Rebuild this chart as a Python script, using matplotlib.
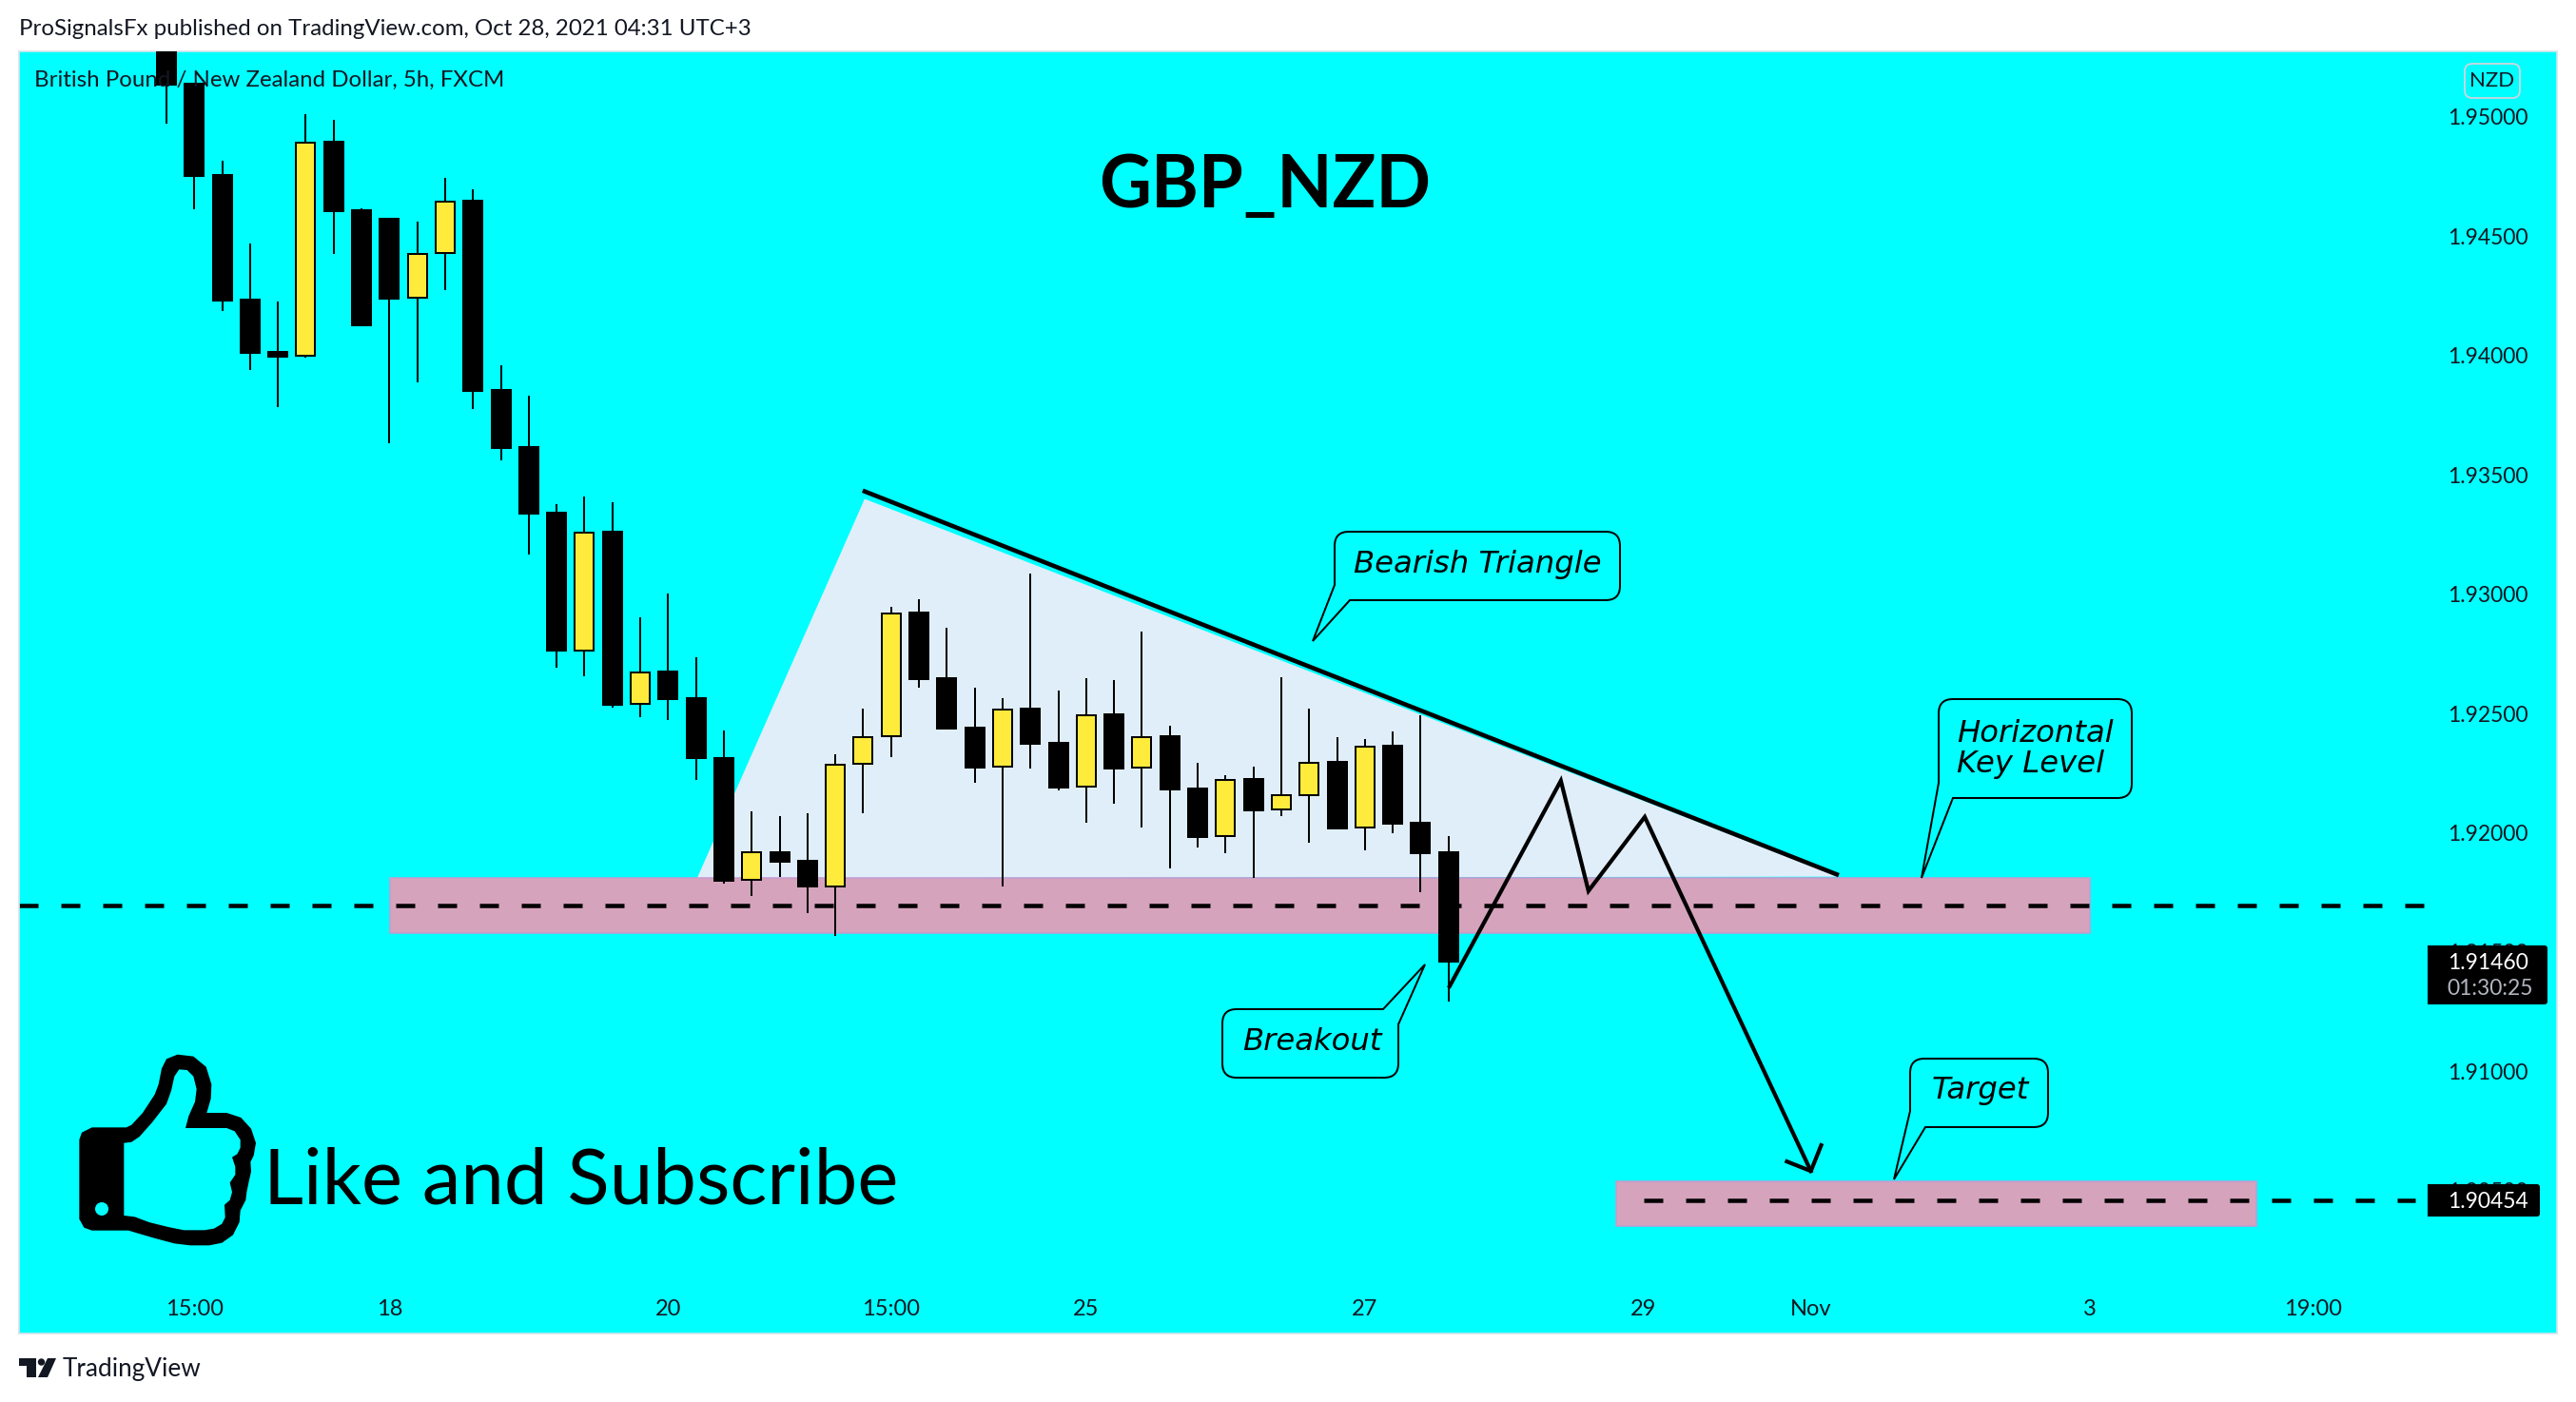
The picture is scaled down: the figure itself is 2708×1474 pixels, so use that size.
# GBP_NZD 5h candles with the triangle setup drawn on top

import matplotlib
matplotlib.use('Agg')
import matplotlib.pyplot as plt
from matplotlib.patches import FancyBboxPatch, PathPatch, Polygon, Circle, Rectangle
from matplotlib.path import Path
import numpy as np

# candles, price values
bar_open = [1.95331, 1.95140, 1.94757, 1.94234, 1.94015, 1.93999, 1.94896, 1.94609, 1.94573, 1.94242,
            1.94430, 1.94649, 1.93856, 1.93617, 1.93341, 1.92763, 1.93262, 1.92540, 1.92676, 1.92564,
            1.92313, 1.91802, 1.91918, 1.91882, 1.91775, 1.92289, 1.92404, 1.92923, 1.92648, 1.92440,
            1.92277, 1.92520, 1.92377, 1.92193, 1.92496, 1.92273, 1.92404, 1.92185, 1.91986, 1.92225,
            1.92097, 1.92157, 1.92297, 1.92022, 1.92365, 1.92042, 1.91918]
bar_close = [1.95136, 1.94753, 1.94231, 1.94011, 1.93995, 1.94892, 1.94605, 1.94127, 1.94238, 1.94426,
             1.94645, 1.93852, 1.93613, 1.93337, 1.92763, 1.93258, 1.92536, 1.92672, 1.92560, 1.92313,
             1.91798, 1.91918, 1.91878, 1.91775, 1.92285, 1.92400, 1.92919, 1.92644, 1.92436, 1.92273,
             1.92516, 1.92373, 1.92191, 1.92492, 1.92271, 1.92400, 1.92181, 1.91982, 1.92221, 1.92094,
             1.92157, 1.92293, 1.92018, 1.92361, 1.92038, 1.91914, 1.91460]
bar_high = [1.95371, 1.95140, 1.94817, 1.94470, 1.94227, 1.95012, 1.94988, 1.94617, 1.94573, 1.94561,
            1.94745, 1.94697, 1.93959, 1.93832, 1.93377, 1.93409, 1.93385, 1.92903, 1.93003, 1.92735,
            1.92428, 1.92090, 1.92070, 1.92082, 1.92329, 1.92520, 1.92947, 1.92979, 1.92859, 1.92608,
            1.92564, 1.93086, 1.92596, 1.92648, 1.92640, 1.92843, 1.92448, 1.92293, 1.92241, 1.92277,
            1.92652, 1.92520, 1.92400, 1.92393, 1.92424, 1.92492, 1.91986]
bar_low = [1.94972, 1.94613, 1.94187, 1.93939, 1.93784, 1.93991, 1.94426, 1.94123, 1.93632, 1.93888,
           1.94274, 1.93776, 1.93561, 1.93166, 1.92692, 1.92656, 1.92524, 1.92484, 1.92472, 1.92221,
           1.91786, 1.91735, 1.91814, 1.91663, 1.91569, 1.92082, 1.92317, 1.92608, 1.92432, 1.92209,
           1.91775, 1.92271, 1.92177, 1.92042, 1.92121, 1.92022, 1.91852, 1.91938, 1.91914, 1.91812,
           1.92068, 1.91958, 1.92018, 1.91928, 1.91998, 1.91751, 1.91292]

price_ticks = [1.950, 1.945, 1.940, 1.935, 1.930, 1.925, 1.920, 1.915, 1.910, 1.905]
time_ticks = [1, 8, 18, 26, 33, 43, 53, 59, 69, 77]
time_labels = ['15:00', '18', '20', '15:00', '25', '27', '29', 'Nov', '3', '19:00']

# drawings, as (bar number, price)
triangle = [(19.04, 1.91810), (25.05, 1.93399), (60.0, 1.91816)]
trend_line = [(24.98, 1.93434), (60.0, 1.91822)]
zigzag = [(46.04, 1.91357), (50.03, 1.92218), (51.02, 1.91756), (53.04, 1.92066), (59.0, 1.90582)]
arrow_head = [(58.14, 1.90622), (59.0, 1.90582), (59.37, 1.90690)]
key_zone = (8.02, 69.0, 1.91578, 1.91810)
target_zone = (52.0, 75.0, 1.90350, 1.90538)
key_level = 1.91695
key_span = (-5.29, 81.0)
target_level = 1.90458
target_span = (53.0, 80.7)

plt.rcParams['font.family'] = ['Lato', 'DejaVu Sans']

W, H = 2708, 1474
PANE_L, PANE_T, PANE_R, PANE_B = 20, 54, 2688, 1402
CYAN = '#00FFFF'
INK = '#131722'

fig = plt.figure(figsize=(W / 100, H / 100), dpi=100, facecolor='white')
ax = fig.add_axes([PANE_L / W, (H - PANE_B) / H, (PANE_R - PANE_L) / W, (PANE_B - PANE_T) / H])
ax.set_facecolor(CYAN)
ax.set_xlim(-5.29, 85.77)
ax.set_ylim(1.89901, 1.95275)
for s in ax.spines.values():
    s.set_color('#d6e4ea')
    s.set_linewidth(1.2)

px = 0.72  # one pixel in points

ax.yaxis.tick_right()
ax.set_yticks(price_ticks)
ax.set_yticklabels(['%.5f' % p for p in price_ticks])
ax.set_xticks(time_ticks)
ax.set_xticklabels(time_labels)
ax.tick_params(axis='y', length=0, pad=-115 * px, labelsize=16.5, labelcolor=INK)
ax.tick_params(axis='x', length=0, pad=-36 * px, labelsize=17, labelcolor=INK)

# drawings under the candles
ax.add_patch(Polygon(triangle, closed=True, fc='#E0EEFA', ec='none', zorder=1))
for zone in (key_zone, target_zone):
    ax.add_patch(Rectangle((zone[0], zone[2]), zone[1] - zone[0], zone[3] - zone[2],
                           fc='#D5A3BC', ec='#C79AD0', lw=1.5 * px, zorder=1.2))
dash = (0, (20 / 4.5, 24 / 4.5))
ax.plot(key_span, [key_level, key_level], color='k', lw=4.5 * px, ls=dash, zorder=1.5,
        dash_capstyle='butt')
ax.plot(target_span, [target_level, target_level], color='k', lw=4.5 * px, ls=dash, zorder=1.5,
        dash_capstyle='butt')

# candles
bars = np.arange(len(bar_open))
for i in bars:
    up = bar_close[i] > bar_open[i]
    ax.vlines(i, bar_low[i], bar_high[i], color='k', lw=2 * px, zorder=3)
    ax.bar(i, abs(bar_close[i] - bar_open[i]), bottom=min(bar_open[i], bar_close[i]), width=20 / 29.3,
           color='#FFEB3B' if up else 'k', edgecolor='k', lw=2 * px, zorder=3.2)

# trend line and projected path
ax.plot(*zip(*trend_line), color='k', lw=4.6 * px, zorder=4, solid_capstyle='butt')
ax.plot(*zip(*zigzag), color='k', lw=4.2 * px, zorder=4, solid_joinstyle='miter')
ax.plot(*zip(*arrow_head), color='k', lw=4.2 * px, zorder=4, solid_joinstyle='round')

# everything that sits in pixel space: labels, callouts, logos
ov = fig.add_axes([0, 0, 1, 1], facecolor='none')
ov.set_xlim(0, W)
ov.set_ylim(H, 0)
ov.axis('off')


def callout(box, tip, a_h, a_v, corner):
    # rounded box whose tail replaces one corner (bl or tr)
    l, t, r, b = box
    R = 15
    v = [(l + R, t)]
    c = [Path.MOVETO]
    if corner == 'tr':
        v += [(a_h, t), tip, (r, a_v)]
        c += [Path.LINETO] * 3
    else:
        v += [(r - R, t), (r, t), (r, t + R)]
        c += [Path.LINETO, Path.CURVE3, Path.CURVE3]
    v += [(r, b - R), (r, b), (r - R, b)]
    c += [Path.LINETO, Path.CURVE3, Path.CURVE3]
    if corner == 'bl':
        v += [(a_h, b), tip, (l, a_v)]
        c += [Path.LINETO] * 3
    else:
        v += [(l + R, b), (l, b), (l, b - R)]
        c += [Path.LINETO, Path.CURVE3, Path.CURVE3]
    v += [(l, t + R), (l, t), (l + R, t), (l + R, t)]
    c += [Path.LINETO, Path.CURVE3, Path.CURVE3, Path.CLOSEPOLY]
    ov.add_patch(PathPatch(Path(v, c), fc=CYAN, ec='k', lw=2 * px, joinstyle='miter'))


callout((1403, 559, 1703, 631), (1380, 674), 1419, 615, 'bl')
callout((2038, 735, 2241, 839), (2020, 923), 2053, 823, 'bl')
callout((2008, 1113, 2153, 1185), (1991, 1240), 2024, 1168, 'bl')
callout((1285, 1061, 1470, 1133), (1498, 1014), 1454, 1077, 'tr')

note = dict(family='DejaVu Sans', style='oblique', fontsize=23.2, color='k')
ov.text(1553, 593, 'Bearish Triangle', ha='center', va='center', **note)
ov.text(2057, 780, 'Horizontal', ha='left', va='baseline', **note)
ov.text(2057, 812, 'Key Level', ha='left', va='baseline', **note)
ov.text(2082, 1147, 'Target', ha='center', va='center', **note)
ov.text(1379, 1095, 'Breakout', ha='center', va='center', **note)

ov.text(1155, 218, 'GBP_NZD', ha='left', va='baseline', fontsize=54.5, fontweight='bold', color='k')
ov.text(277, 1266, 'Like and Subscribe', ha='left', va='baseline', fontsize=58.8, color='k')

ov.text(20, 30, 'ProSignalsFx published on TradingView.com, Oct 28, 2021 04:31 UTC+3', ha='left', va='center',
        fontsize=17.25, color=INK)
ov.text(36, 84, 'British Pound / New Zealand Dollar, 5h, FXCM', ha='left', va='center', fontsize=17.3, color=INK)

# currency badge and price boxes
ov.add_patch(FancyBboxPatch((2597, 73), 46, 24, boxstyle='round,pad=6,rounding_size=8', fc=CYAN, ec='#d1d4dc',
                            lw=1.8 * px))
ov.text(2620, 85, 'NZD', ha='center', va='center', fontsize=16, color=INK)

for x0, y0, x1, y1 in [(2552, 994, 2678, 1056), (2552, 1245, 2670, 1279)]:
    # square on the left, small radius on the right
    ov.add_patch(FancyBboxPatch((x0 + 3, y0 + 3), x1 - x0 - 6, y1 - y0 - 6, boxstyle='round,pad=3,rounding_size=3',
                                fc='k', ec='none'))
    ov.add_patch(Rectangle((x0, y0), 12, y1 - y0, fc='k', ec='none'))
ov.text(2573, 1012, '1.91460', ha='left', va='center', fontsize=16.5, color='white')
ov.text(2572, 1039, '01:30:25', ha='left', va='center', fontsize=16.5, color='#b2b5be')
ov.text(2573, 1263, '1.90454', ha='left', va='center', fontsize=16.5, color='white')

# thumb icon, traced
hand_outer = [(70, 325), (78, 302), (110, 286), (218, 286), (235, 278), (270, 240), (308, 182), (320, 150), (330, 100),
              (345, 70), (380, 56), (430, 62), (470, 95), (487, 150), (485, 195), (472, 240), (535, 240), (580, 255),
              (612, 290), (627, 335), (620, 375), (610, 395), (612, 425), (603, 465), (598, 490), (595, 515),
              (578, 548), (575, 585), (555, 625), (520, 650), (480, 658), (420, 658), (370, 652), (310, 636),
              (255, 620), (225, 611), (110, 611), (85, 602), (70, 575)]
hand_inner = [(211, 335), (235, 332), (260, 315), (300, 270), (345, 212), (360, 170), (370, 125), (385, 103), (410, 105),
              (430, 125), (440, 165), (435, 205), (415, 250), (405, 288), (535, 288), (560, 298), (578, 325),
              (578, 350), (568, 370), (552, 380), (562, 410), (562, 435), (545, 460), (552, 490), (545, 515),
              (528, 530), (530, 570), (520, 590), (495, 605), (465, 610), (400, 610), (350, 600), (290, 585),
              (245, 568), (211, 564)]


def icon_xy(points):
    return [(60 + a / 3, 1090 + b / 3) for a, b in points]


ov.add_patch(Polygon(icon_xy(hand_outer), closed=True, fc='k', ec='none'))
ov.add_patch(Polygon(icon_xy(hand_inner), closed=True, fc=CYAN, ec='none'))
ov.add_patch(Circle((107, 1271), 7, fc=CYAN, ec='none'))

# TradingView logo
ov.add_patch(Polygon([(20, 1428), (38, 1428), (38, 1448), (28, 1448), (28, 1436), (20, 1436)], closed=True, fc=INK,
                     ec='none'))
ov.add_patch(Circle((43.5, 1432), 3.7, fc=INK, ec='none'))
ov.add_patch(Polygon([(50, 1428), (59, 1428), (50, 1448), (40, 1448)], closed=True, fc=INK, ec='none'))
ov.text(66, 1439, 'TradingView', ha='left', va='center', fontsize=18.8, color=INK)

plt.savefig('out.png', dpi=100, facecolor='white')
